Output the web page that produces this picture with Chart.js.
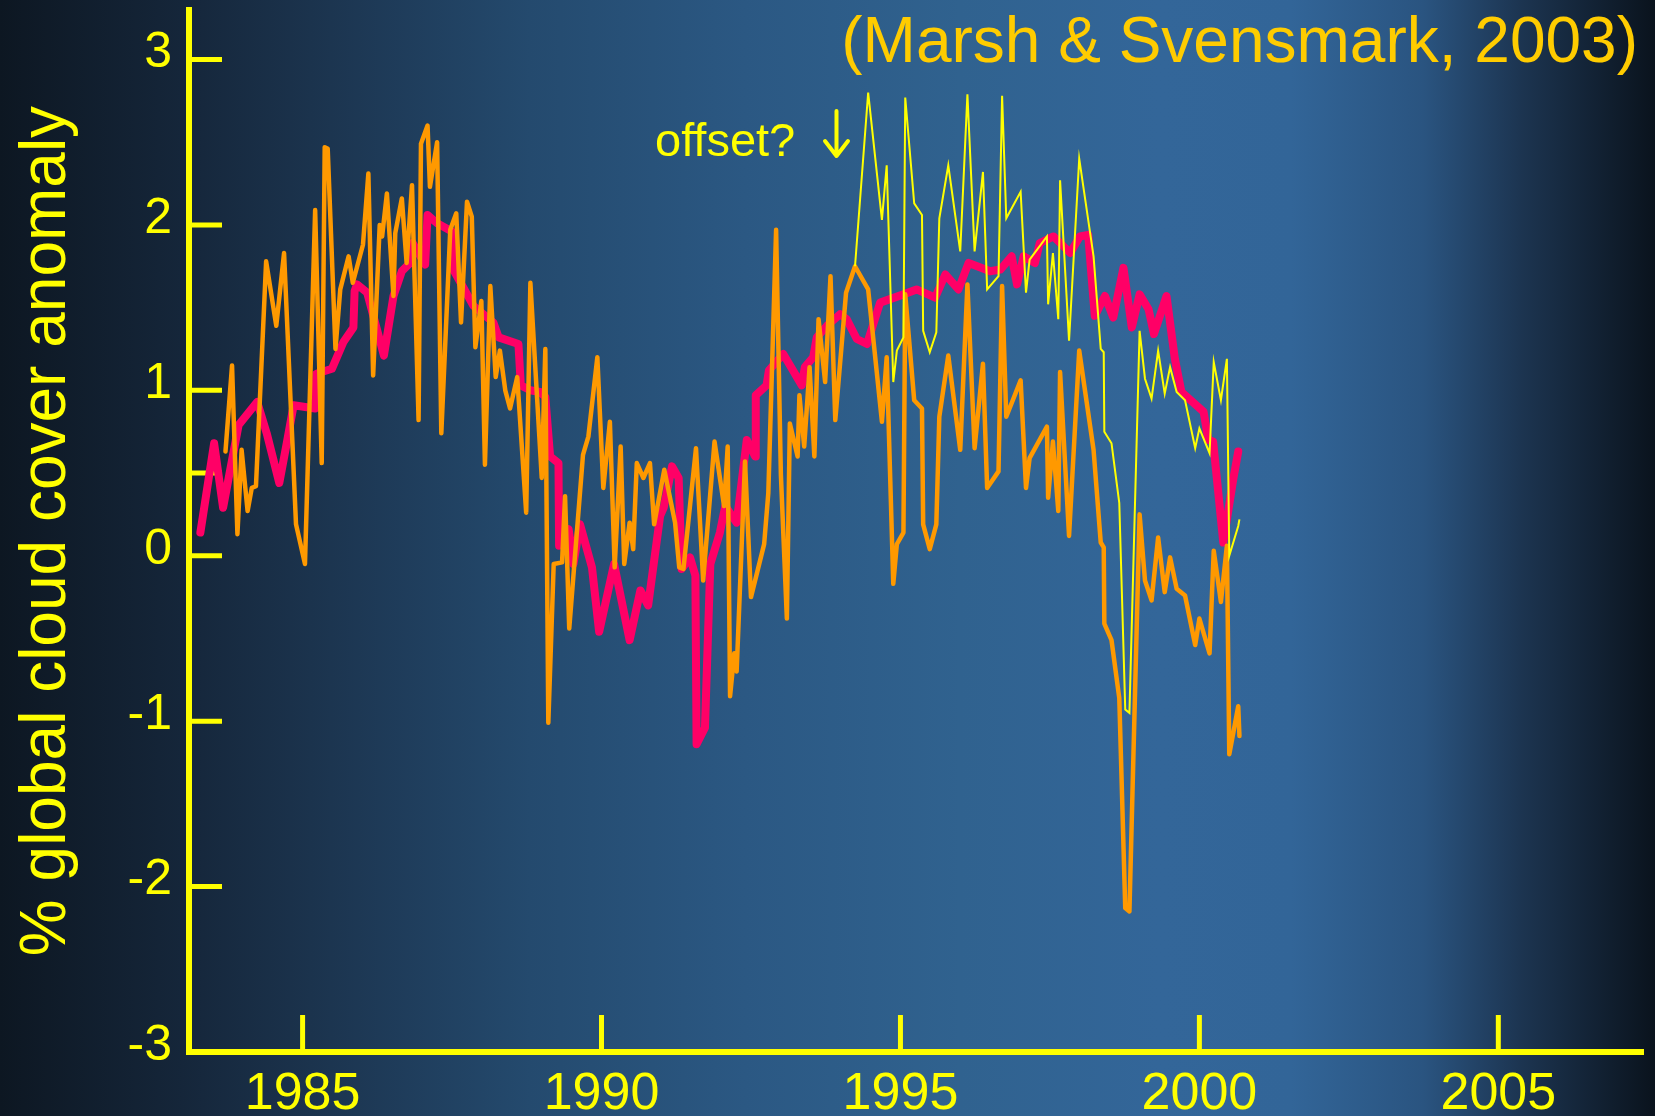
<!DOCTYPE html>
<html>
<head>
<meta charset="utf-8">
<title>Global cloud cover anomaly</title>
<script src="https://cdn.jsdelivr.net/npm/chart.js@4.4.1/dist/chart.umd.min.js"></script>
<style>
  html, body { margin: 0; padding: 0; background: #0d1722; overflow: hidden; }
  canvas { display: block; }
</style>
</head>
<body>
<canvas id="cloud-chart" width="1655" height="1116"></canvas>
<script>
// cosmic ray flux curve (scaled to % units)
const redYears = [1983.29, 1983.52, 1983.67, 1983.93, 1984.24, 1984.40, 1984.61, 1984.74, 1984.85, 1985.21,
  1985.23, 1985.49, 1985.68, 1985.85, 1985.87, 1985.91, 1986.08, 1986.36, 1986.52, 1986.66,
  1986.80, 1986.84, 1987.05, 1987.09, 1987.25, 1987.50, 1987.52, 1987.86, 1988.19, 1988.28,
  1988.61, 1988.65, 1988.81, 1988.97, 1989.06, 1989.14, 1989.28, 1989.29, 1989.45, 1989.53,
  1989.64, 1989.84, 1989.96, 1990.21, 1990.47, 1990.65, 1990.78, 1990.98, 1991.04, 1991.18,
  1991.29, 1991.34, 1991.48, 1991.57, 1991.59, 1991.73, 1991.82, 1991.98, 1992.07, 1992.26,
  1992.43, 1992.57, 1992.58, 1992.76, 1992.80, 1993.04, 1993.35, 1993.40, 1993.54, 1993.60,
  1993.77, 1993.99, 1994.10, 1994.27, 1994.44, 1994.66, 1995.05, 1995.27, 1995.58, 1995.75,
  1995.97, 1996.14, 1996.36, 1996.50, 1996.67, 1996.86, 1996.95, 1997.06, 1997.25, 1997.33,
  1997.56, 1997.84, 1998.00, 1998.14, 1998.25, 1998.42, 1998.56, 1998.73, 1998.87, 1999.00,
  1999.15, 1999.24, 1999.45, 1999.59, 1999.70, 2000.07, 2000.15, 2000.23, 2000.40, 2000.57,
  2000.65];
const redValues = [0.14, 0.68, 0.29, 0.79, 0.93, 0.74, 0.44, 0.69, 0.91, 0.89,
  1.10, 1.13, 1.29, 1.38, 1.60, 1.64, 1.59, 1.21, 1.57, 1.72,
  1.77, 1.89, 1.76, 2.06, 2.01, 1.96, 1.73, 1.51, 1.41, 1.32,
  1.28, 1.03, 1.00, 0.99, 0.96, 0.60, 0.56, 0.06, 0.16, -0.05,
  0.19, -0.07, -0.46, -0.05, -0.51, -0.21, -0.30, 0.24, 0.29, 0.54,
  0.47, -0.08, -0.01, -0.12, -1.14, -1.04, -0.05, 0.14, 0.30, 0.20,
  0.70, 0.60, 0.97, 1.03, 1.12, 1.22, 1.03, 1.14, 1.20, 1.32,
  1.39, 1.46, 1.43, 1.31, 1.28, 1.53, 1.58, 1.61, 1.56, 1.70,
  1.61, 1.77, 1.74, 1.72, 1.73, 1.81, 1.64, 1.81, 1.77, 1.89,
  1.93, 1.83, 1.93, 1.94, 1.45, 1.57, 1.44, 1.74, 1.38, 1.58,
  1.49, 1.34, 1.57, 1.19, 0.99, 0.87, 0.70, 0.69, 0.08, 0.47,
  0.63];

// monthly low cloud anomaly
const orangeYears = [1983.71, 1983.82, 1983.91, 1983.98, 1984.08, 1984.15, 1984.22, 1984.39, 1984.56, 1984.69,
  1984.89, 1985.04, 1985.21, 1985.32, 1985.37, 1985.42, 1985.55, 1985.63, 1985.77, 1985.84,
  1986.01, 1986.10, 1986.18, 1986.29, 1986.33, 1986.41, 1986.52, 1986.55, 1986.66, 1986.74,
  1986.83, 1986.94, 1986.98, 1987.09, 1987.13, 1987.25, 1987.32, 1987.47, 1987.57, 1987.65,
  1987.75, 1987.83, 1987.89, 1987.99, 1988.05, 1988.14, 1988.23, 1988.30, 1988.39, 1988.47,
  1988.59, 1988.74, 1988.81, 1989.00, 1989.06, 1989.11, 1989.20, 1989.34, 1989.39, 1989.46,
  1989.69, 1989.78, 1989.93, 1990.03, 1990.14, 1990.22, 1990.32, 1990.38, 1990.47, 1990.53,
  1990.59, 1990.70, 1990.81, 1990.88, 1991.05, 1991.23, 1991.30, 1991.37, 1991.58, 1991.70,
  1991.89, 1992.05, 1992.11, 1992.15, 1992.22, 1992.26, 1992.40, 1992.50, 1992.72, 1992.79,
  1992.92, 1993.00, 1993.10, 1993.15, 1993.28, 1993.31, 1993.39, 1993.48, 1993.56, 1993.63,
  1993.74, 1993.83, 1993.91, 1994.09, 1994.24, 1994.46, 1994.69, 1994.77, 1994.88, 1994.94,
  1995.05, 1995.08, 1995.23, 1995.36, 1995.38, 1995.49, 1995.60, 1995.65, 1995.80, 1996.00,
  1996.12, 1996.24, 1996.38, 1996.45, 1996.64, 1996.70, 1996.77, 1997.01, 1997.10, 1997.16,
  1997.45, 1997.47, 1997.55, 1997.64, 1997.67, 1997.82, 1997.99, 1998.23, 1998.35, 1998.40,
  1998.41, 1998.53, 1998.66, 1998.76, 1998.83, 1999.00, 1999.09, 1999.20, 1999.31, 1999.42,
  1999.51, 1999.62, 1999.76, 1999.93, 2000.00, 2000.17, 2000.24, 2000.36, 2000.46, 2000.50,
  2000.65, 2000.67];
const orangeValues = [0.63, 1.15, 0.13, 0.64, 0.27, 0.41, 0.42, 1.78, 1.39, 1.83,
  0.19, -0.05, 2.09, 0.56, 2.47, 2.46, 1.25, 1.61, 1.81, 1.65,
  1.88, 2.31, 1.09, 2.00, 1.93, 2.19, 1.57, 1.95, 2.16, 1.77,
  2.24, 0.82, 2.49, 2.60, 2.23, 2.50, 0.74, 1.97, 2.07, 1.41,
  2.14, 2.05, 1.26, 1.54, 0.55, 1.63, 1.08, 1.24, 1.00, 0.89,
  1.08, 0.26, 1.65, 0.47, 1.25, -1.01, -0.05, -0.04, 0.36, -0.44,
  0.61, 0.72, 1.20, 0.41, 0.81, -0.07, 0.66, -0.05, 0.20, 0.04,
  0.56, 0.47, 0.56, 0.19, 0.52, 0.20, -0.07, -0.08, 0.65, -0.15,
  0.69, 0.30, 0.66, -0.85, -0.59, -0.70, 0.57, -0.25, 0.07, 0.38,
  1.97, 0.49, -0.38, 0.80, 0.60, 0.97, 0.66, 1.14, 0.60, 1.43,
  1.05, 1.69, 0.82, 1.59, 1.75, 1.61, 0.81, 1.20, -0.17, 0.07,
  0.14, 1.58, 0.94, 0.89, 0.19, 0.04, 0.19, 0.84, 1.21, 0.64,
  1.64, 0.65, 1.16, 0.41, 0.51, 1.63, 0.84, 1.06, 0.41, 0.59,
  0.78, 0.35, 0.69, 0.27, 1.11, 0.12, 1.24, 0.64, 0.08, 0.05,
  -0.41, -0.51, -0.86, -2.13, -2.15, 0.25, -0.15, -0.27, 0.11, -0.22,
  -0.01, -0.20, -0.24, -0.54, -0.38, -0.59, 0.03, -0.28, 0.06, -1.20,
  -0.91, -1.09];

// same months from mid-1994 on, without the suspected calibration step
const yellowStart = 1994.24;
const yellowValues = [1.75, 2.80, 2.03, 2.36, 1.05, 1.24,
  1.32, 2.77, 2.13, 2.06, 1.36, 1.23, 1.35, 2.04, 2.36, 1.84,
  2.79, 1.84, 2.32, 1.61, 1.69, 2.78, 2.04, 2.20, 1.59, 1.79,
  1.93, 1.52, 1.83, 1.43, 2.27, 1.30, 2.40, 1.81, 1.25, 1.23,
  0.75, 0.68, 0.32, -0.93, -0.95, 1.36, 1.07, 0.95, 1.24, 0.98,
  1.14, 0.99, 0.94, 0.65, 0.77, 0.62, 1.17, 0.94, 1.19, 0.00,
  0.18, 0.22];

const xTicks = [1985, 1990, 1995, 2000, 2005];
const yTicks = [-3, -2, -1, 0, 0.5, 1, 2, 3];

const yellow = '#FFFF00';
const gold = '#FFCC00';
const fontFamily = '"Liberation Sans", Arial, Helvetica, sans-serif';

const toPoints = (xs, ys) => ys.map((v, i) => ({ x: xs[i], y: v }));
const redPoints = toPoints(redYears, redValues);
const orangePoints = toPoints(orangeYears, orangeValues);
const yellowPoints = toPoints(orangeYears.slice(orangeYears.indexOf(yellowStart)), yellowValues);

// dark-blue slide background, lighter towards the right third
const background = {
  id: 'background',
  beforeDraw(chart) {
    const { ctx, width, height } = chart;
    const g = ctx.createLinearGradient(0, 0, width, 0);
    g.addColorStop(0.00, '#0d1722');
    g.addColorStop(0.11, '#15263a');
    g.addColorStop(0.20, '#1c3550');
    g.addColorStop(0.32, '#244a6e');
    g.addColorStop(0.45, '#2b5883');
    g.addColorStop(0.58, '#30628f');
    g.addColorStop(0.70, '#336699');
    g.addColorStop(0.78, '#326598');
    g.addColorStop(0.86, '#2a5480');
    g.addColorStop(0.92, '#1c3450');
    g.addColorStop(1.00, '#0a131d');
    ctx.save();
    ctx.fillStyle = g;
    ctx.fillRect(0, 0, width, height);
    ctx.restore();
  }
};

// tick marks point into the plot
const tickMarks = {
  id: 'tickMarks',
  beforeDatasetsDraw(chart) {
    const { ctx, chartArea, scales: { x, y } } = chart;
    ctx.save();
    ctx.strokeStyle = yellow;
    ctx.lineWidth = 5;
    y.ticks.forEach(t => {
      const py = y.getPixelForValue(t.value);
      ctx.beginPath();
      ctx.moveTo(chartArea.left, py);
      ctx.lineTo(chartArea.left + 33, py);
      ctx.stroke();
    });
    x.ticks.forEach(t => {
      const px = x.getPixelForValue(t.value);
      ctx.beginPath();
      ctx.moveTo(px, chartArea.bottom);
      ctx.lineTo(px, chartArea.bottom - 37);
      ctx.stroke();
    });
    ctx.restore();
  }
};

const captions = {
  id: 'captions',
  afterDraw(chart) {
    const { ctx } = chart;
    ctx.save();
    ctx.textBaseline = 'alphabetic';
    ctx.fillStyle = gold;
    ctx.font = '64px ' + fontFamily;
    ctx.textAlign = 'right';
    ctx.fillText('(Marsh & Svensmark, 2003)', 1638, 62);

    ctx.fillStyle = yellow;
    ctx.font = '47px ' + fontFamily;
    ctx.textAlign = 'left';
    ctx.fillText('offset?', 655, 156);

    // down arrow next to the note
    ctx.strokeStyle = yellow;
    ctx.lineWidth = 4;
    ctx.lineCap = 'round';
    ctx.lineJoin = 'round';
    ctx.beginPath();
    ctx.moveTo(836.5, 111);
    ctx.lineTo(836.5, 155);
    ctx.moveTo(825, 141);
    ctx.lineTo(836.5, 156);
    ctx.lineTo(848, 141);
    ctx.stroke();
    ctx.restore();
  }
};

const ctx = document.getElementById('cloud-chart').getContext('2d');
const chart = new Chart(ctx, {
  type: 'line',
  data: {
    datasets: [
      {
        label: 'cloud cover, offset removed',
        data: yellowPoints,
        borderColor: yellow,
        borderWidth: 2,
        pointRadius: 0,
        order: 0
      },
      {
        label: 'cloud cover',
        data: orangePoints,
        borderColor: '#FF9900',
        borderWidth: 4.5,
        borderJoinStyle: 'round',
        borderCapStyle: 'round',
        pointRadius: 0,
        order: 1
      },
      {
        label: 'cosmic rays',
        data: redPoints,
        borderColor: '#FF0066',
        borderWidth: 8,
        borderJoinStyle: 'round',
        borderCapStyle: 'round',
        pointRadius: 0,
        order: 2
      }
    ]
  },
  options: {
    responsive: false,
    animation: false,
    devicePixelRatio: 1,
    layout: { padding: { top: 10, right: 12, bottom: 0, left: 0 } },
    plugins: {
      legend: { display: false },
      tooltip: { enabled: false }
    },
    scales: {
      x: {
        type: 'linear',
        min: 1983.1,
        max: 2007.42,
        afterBuildTicks: scale => { scale.ticks = xTicks.map(v => ({ value: v })); },
        afterFit: scale => { scale.height = 64; scale.paddingLeft = 0; scale.paddingRight = 0; },
        grid: { display: false, drawTicks: false },
        border: { display: true, color: yellow, width: 6 },
        ticks: {
          color: yellow,
          font: { family: fontFamily, size: 52 },
          padding: 11,
          maxRotation: 0,
          autoSkip: false,
          callback: v => String(v)
        }
      },
      y: {
        min: -3,
        max: 3.299,
        afterBuildTicks: scale => { scale.ticks = yTicks.map(v => ({ value: v })); },
        afterFit: scale => { scale.width = 189; scale.paddingTop = 0; scale.paddingBottom = 0; },
        grid: { display: false, drawTicks: false },
        border: { display: true, color: yellow, width: 6 },
        ticks: {
          color: yellow,
          font: { family: fontFamily, size: 50 },
          padding: 17,
          labelOffset: -6,
          autoSkip: false,
          callback: v => (v === 0.5 ? '' : String(v))
        },
        title: {
          display: true,
          text: '% global cloud cover anomaly',
          color: yellow,
          font: { family: fontFamily, size: 64, lineHeight: 1.2 },
          padding: { top: 9, bottom: 0 }
        }
      }
    }
  },
  plugins: [background, tickMarks, captions]
});
</script>
</body>
</html>
